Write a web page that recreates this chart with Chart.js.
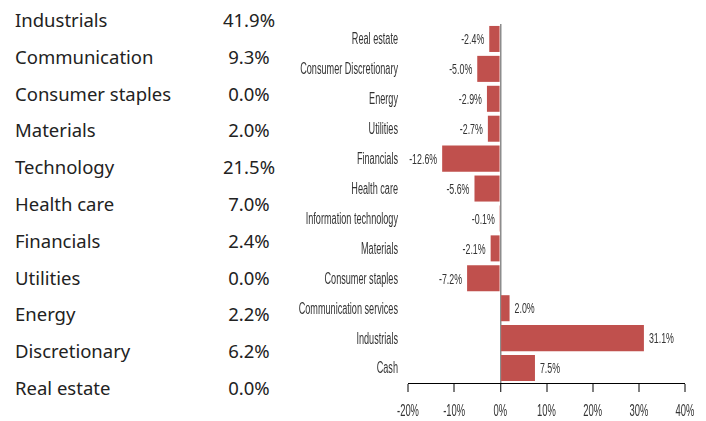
<!DOCTYPE html>
<html>
<head>
<meta charset="utf-8">
<script src="https://cdn.jsdelivr.net/npm/chart.js@4"></script>
<style>
  html, body { margin: 0; padding: 0; background: #fff; }
  body { width: 706px; height: 421px; position: relative; overflow: hidden; }
  #weights { position: absolute; left: 15px; top: 6px; width: 280px; font-family: 'Noto Sans', 'Open Sans', sans-serif; font-size: 18.5px; color: #222; }
  #weights .row { height: 36.8px; line-height: 28px; position: relative; }
  #weights .val { position: absolute; left: 194px; width: 80px; top: 0; text-align: center; }
  #chart-box { position: absolute; left: 290px; top: 0; width: 416px; height: 421px; }
</style>
</head>
<body>
<div id="weights"></div>
<div id="chart-box"><canvas id="activeChart"></canvas></div>
<script>
// Tabla de la izquierda: peso por sector
const tableSectors = ['Industrials', 'Communication', 'Consumer staples', 'Materials', 'Technology', 'Health care', 'Financials', 'Utilities', 'Energy', 'Discretionary', 'Real estate'];
const tableWeights = [41.9, 9.3, 0.0, 2.0, 21.5, 7.0, 2.4, 0.0, 2.2, 6.2, 0.0];

// Gráfico de barras: peso activo por sector
const categories = ['Real estate', 'Consumer Discretionary', 'Energy', 'Utilities', 'Financials', 'Health care', 'Information technology', 'Materials', 'Consumer staples', 'Communication services', 'Industrials', 'Cash'];
const activeWeights = [-2.4, -5.0, -2.9, -2.7, -12.6, -5.6, -0.1, -2.1, -7.2, 2.0, 31.1, 7.5];
const xTickValues = [-20, -10, 0, 10, 20, 30, 40];

// Fuente estrecha: no hay una condensada instalada, así que se comprime a mano
const labelFont = "'Liberation Sans', Arial, sans-serif";
const squeeze = 0.57;

// Rellenar la tabla
const weightsDiv = document.getElementById('weights');
tableSectors.forEach((name, i) => {
    const row = document.createElement('div');
    row.className = 'row';
    row.innerHTML = `<span>${name}</span><span class="val">${tableWeights[i].toFixed(1)}%</span>`;
    weightsDiv.appendChild(row);
});

function squeezedText(ctx, txt, x, y, align) {
    ctx.save();
    ctx.translate(x, y);
    ctx.scale(squeeze, 1);
    ctx.textAlign = align;
    ctx.fillText(txt, 0, 0);
    ctx.restore();
}

// Etiquetas de ejes y de valores, dibujadas comprimidas
const condensedLabels = {
    id: 'condensedLabels',
    afterDraw(chart) {
        const ctx = chart.ctx;
        const xs = chart.scales.x;
        const ys = chart.scales.y;
        const meta = chart.getDatasetMeta(0);
        ctx.save();
        ctx.fillStyle = '#333';
        ctx.textBaseline = 'middle';

        ctx.font = '16px ' + labelFont;
        categories.forEach((name, i) => {
            squeezedText(ctx, name, ys.right - 10, ys.getPixelForTick(i) + 1, 'right');
        });

        ctx.font = '15.5px ' + labelFont;
        meta.data.forEach((bar, i) => {
            const v = activeWeights[i];
            const txt = v.toFixed(1) + '%';
            if (v < 0) squeezedText(ctx, txt, bar.x - 5, bar.y + 1, 'right');
            else squeezedText(ctx, txt, bar.x + 5, bar.y + 1, 'left');
        });

        ctx.font = '16.5px ' + labelFont;
        xTickValues.forEach(v => {
            squeezedText(ctx, v + '%', xs.getPixelForValue(v), xs.top + 28, 'center');
        });
        ctx.restore();
    }
};

new Chart(document.getElementById('activeChart'), {
    type: 'bar',
    data: {
        labels: categories,
        datasets: [{
            data: activeWeights,
            backgroundColor: '#C0504D',
            borderWidth: 0,
            barPercentage: 0.87,
            categoryPercentage: 1.0
        }]
    },
    options: {
        indexAxis: 'y',
        responsive: true,
        maintainAspectRatio: false,
        animation: false,
        layout: { padding: { top: 24, right: 21, bottom: 0, left: 0 } },
        plugins: { legend: { display: false }, tooltip: { enabled: false } },
        scales: {
            x: {
                min: -20,
                max: 40,
                afterFit: (scale) => { scale.height = 38; },
                afterBuildTicks: (scale) => { scale.ticks = xTickValues.map(v => ({ value: v })); },
                grid: {
                    color: (c) => (c.tick && c.tick.value === 0) ? '#8c8c8c' : 'rgba(0,0,0,0)',
                    lineWidth: (c) => (c.tick && c.tick.value === 0) ? 1.5 : 0,
                    tickColor: '#000',
                    tickLength: 9,
                    tickWidth: 1
                },
                border: { display: true, color: '#000', width: 1 },
                ticks: { display: false }
            },
            y: {
                afterFit: (scale) => { scale.width = 118; },
                grid: { display: false },
                border: { display: false },
                ticks: { display: false }
            }
        }
    },
    plugins: [condensedLabels]
});
</script>
</body>
</html>
